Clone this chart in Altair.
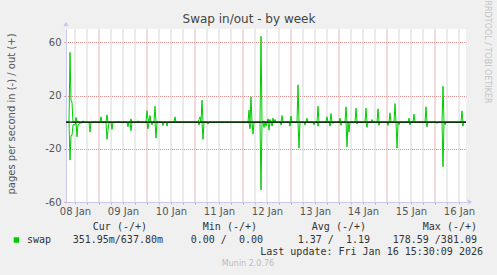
import altair as alt
import pandas as pd

# ---------------- data (hours since 08 Jan 00:00, pages/s) ----------------
out_hours = [9.5, 10, 10.5, 12.5, 13.5, 16, 25, 28, 40, 43.5, 48, 48.5, 49.5, 52, 62,
             74, 74.5, 75.5, 99, 100, 105, 106.5, 108.5, 109.5, 111, 112, 115.5, 120,
             123.5, 128, 133.5, 138, 140, 144.5, 147.5, 152.5, 157.5, 160.5, 163.5,
             169.5, 172, 179, 181.5, 187.5, 196, 205.5]
out_values = [52.5, 16, 15, 3.5, 1, 1, 4, 5.5, 2.5, 1, 8.5, 3, 5, 12, 4,
              2, 4, 16.5, 9, 19, 64.5, 1, 2.5, 2, 3, 2, 5, 4.5,
              28, 3, 12, 4, 6.5, 3, 11.5, 10.5, 10.5, 2, 10,
              7, 14, 3, 6, 11.5, 27, 8.5]

in_hours = [9.5, 10, 10.5, 11, 11.5, 12, 13, 13.5, 14, 15, 19.5, 28, 28.5, 30.5, 38.5,
            40, 48.5, 50.5, 52.5, 56, 58, 74, 76, 78.5, 99.5, 101, 105, 106.5, 107.5,
            109, 110.5, 115, 119.5, 124, 127, 131.5, 133.5, 139.5, 141, 145, 148, 149,
            153, 158, 164, 168.5, 173, 174, 179.5, 188, 193, 196, 197, 206]
in_values = [28.5, 10, 10, 2, 2, 2, 11, 2, 1.5, 1, 7.5, 13, 6, 5.5, 3.5,
             6.5, 5, 2, 12, 2.5, 3, 2, 13, 1.5, 5, 9, 51, 4, 3,
             6, 3, 2, 3, 19.5, 2, 2, 3, 3, 1, 2.5, 18.5, 7.5,
             1.5, 4, 2.5, 2.5, 19.5, 2, 2, 3.5, 1, 33.5, 2, 3]

day_labels = ["08 Jan", "09 Jan", "10 Jan", "11 Jan", "12 Jan",
              "13 Jan", "14 Jan", "15 Jan", "16 Jan"]
x_grid_hours = list(range(12, 208, 6))          # 6-hour grid
midnight_hours = list(range(24, 208, 24))       # day boundaries

legend_headers = ["Cur (-/+)", "Min (-/+)", "Avg (-/+)", "Max (-/+)"]
legend_values = ["351.95m/637.80m", "0.00 /\u00a0\u00a00.00",
                 "1.37 /\u00a0\u00a01.19", "178.59 /381.09"]
series_name = "swap"
last_update = "Last update: Fri Jan 16 15:30:09 2026"
title_text = "Swap in/out - by week"
y_title = "pages per second in (-) / out (+)"
side_text = "RRDTOOL / TOBI OETIKER"
footer_text = "Munin 2.0.76"

# ---------------- build 30-minute series ----------------
t_start, t_end = 7.5, 207.5
y_min, y_max = -60, 70
slots = [t_start + 0.5 * i for i in range(int((t_end - t_start) / 0.5) + 1)]
out_map = dict(zip(out_hours, out_values))
in_map = dict(zip(in_hours, in_values))
rows = []
for t in slots:
    rows.append({"t": t, "v": out_map.get(t, 0.0), "s": "out"})
    rows.append({"t": t, "v": -in_map.get(t, 0.0), "s": "in"})
df = pd.DataFrame(rows)
minor_df = pd.DataFrame({"h": [h for h in x_grid_hours if h not in midnight_hours]})
major_df = pd.DataFrame({"h": midnight_hours})

# ---------------- layout ----------------
PL, PT, W, H = 66, 29, 400, 173
TOTAL_W, TOTAL_H = 497, 275
GREEN = "#00CC00"
AXIS_BLUE = "#C8C8F0"
MINOR = "#B4B4B4"
MAJOR = "#D88C8C"
MINOR_V = "#D6D6D6"
MAJOR_V = "#E8B4B4"
TXT = "#555555"

label_arr = "[" + ",".join("'" + d + "'" for d in day_labels) + "]"
x_label_expr = "datum.value % 24 === 12 ? " + label_arr + "[floor(datum.value / 24)] : ''"
y_ticks = list(range(-60, 71, 5))

x_scale = alt.Scale(domain=[t_start, t_end], nice=False, zero=False)
y_scale = alt.Scale(domain=[y_min, y_max], nice=False, zero=False)

x_axis = alt.Axis(
    values=x_grid_hours, title=None, grid=False,
    tickColor={"condition": {"test": "datum.value % 24 === 0", "value": MAJOR}, "value": MINOR},
    tickSize=2,
    labelExpr=x_label_expr,
    labelFont="DejaVu Sans", labelFontSize=10, labelColor=TXT,
    labelOverlap=False, labelFlush=False, labelPadding=2,
    domainColor=AXIS_BLUE, domainWidth=1,
)
y_axis = alt.Axis(
    values=y_ticks, title=None, grid=True,
    gridColor={"condition": {"test": "datum.value % 20 === 0", "value": MAJOR}, "value": MINOR},
    gridDash=[1, 1], gridDashOffset=0.5, gridWidth=1,
    tickColor={"condition": {"test": "datum.value % 20 === 0", "value": MAJOR}, "value": MINOR},
    tickSize=2,
    labelExpr="datum.value % 20 === 0 ? '' + datum.value : ''",
    labelFont="DejaVu Sans", labelFontSize=10, labelColor=TXT,
    labelOverlap=False, labelFlush=False, labelPadding=3,
    domainColor=AXIS_BLUE, domainWidth=1,
)

minor_grid = alt.Chart(minor_df).mark_rule(color=MINOR_V, strokeWidth=1).encode(
    x=alt.X("h:Q", scale=x_scale, axis=x_axis),
    y=alt.datum(y_min), y2=alt.datum(y_max),
)
major_grid = alt.Chart(major_df).mark_rule(color=MAJOR_V, strokeWidth=1).encode(
    x=alt.X("h:Q", scale=x_scale, axis=x_axis),
    y=alt.datum(y_min), y2=alt.datum(y_max),
)

lines = alt.Chart(df).mark_line(color=GREEN, strokeWidth=1, interpolate="linear").encode(
    x=alt.X("t:Q", scale=x_scale, axis=x_axis),
    y=alt.Y("v:Q", scale=y_scale, axis=y_axis),
    detail="s:N",
)

zero = alt.Chart(pd.DataFrame({"z": [0]})).mark_rule(color="#000000", strokeWidth=1.1).encode(
    y=alt.Y("z:Q", scale=y_scale, axis=y_axis)
)

arrow_y = alt.Chart(pd.DataFrame({"a": [0]})).mark_point(
    shape="triangle-up", filled=True, color=AXIS_BLUE, opacity=1, size=28, clip=False
).encode(x=alt.value(0), y=alt.value(-5))
arrow_x = alt.Chart(pd.DataFrame({"a": [0]})).mark_point(
    shape="triangle-right", filled=True, color=AXIS_BLUE, opacity=1, size=28, clip=False
).encode(x=alt.value(W + 4), y=alt.value(H))


def txt(s, x, y, size=10, font="DejaVu Sans", color=TXT, align="left", angle=0, baseline="middle"):
    return alt.Chart(pd.DataFrame({"s": [s]})).mark_text(
        font=font, fontSize=size, color=color, align=align, baseline=baseline, angle=angle
    ).encode(x=alt.value(x - PL), y=alt.value(y - PT), text="s:N")


annotations = [
    txt(title_text, 249, 19, size=12, color="#444444", align="center"),
    txt(y_title, 12, 114, size=10, color=TXT, align="center", angle=270),
    txt(side_text, 487, 52, size=8, color="#C4C4C4", align="center", angle=90),
    txt(footer_text, 248, 264, size=8, color="#BBBBBB", align="center"),
]
MONO = "DejaVu Sans Mono"
head_right = [147, 257, 366, 477]
val_right = [163, 263, 370, 477]
for h, xr in zip(legend_headers, head_right):
    annotations.append(txt(h, xr, 227, font=MONO, color="#333333", align="right"))
annotations.append(txt(series_name, 27, 240, font=MONO, color="#333333", align="left"))
for v, xr in zip(legend_values, val_right):
    annotations.append(txt(v, xr, 240, font=MONO, color="#333333", align="right"))
annotations.append(txt(last_update, 483, 252, font=MONO, color="#333333", align="right"))

swatch = alt.Chart(pd.DataFrame({"a": [0]})).mark_point(
    shape="square", filled=True, color=GREEN, opacity=1, size=30, clip=False
).encode(x=alt.value(16.5 - PL), y=alt.value(240 - PT))

chart = alt.layer(minor_grid, major_grid, lines, zero, arrow_y, arrow_x, swatch,
                  *annotations).properties(
    width=W, height=H,
    autosize=alt.AutoSizeParams(type="none"),
    padding={"left": PL, "top": PT, "right": TOTAL_W - PL - W, "bottom": TOTAL_H - PT - H},
    background="#F0F0F0",
).configure_view(fill="#FFFFFF", stroke=None)

chart.save("out.html", embed_options={"renderer": "svg", "actions": False})
